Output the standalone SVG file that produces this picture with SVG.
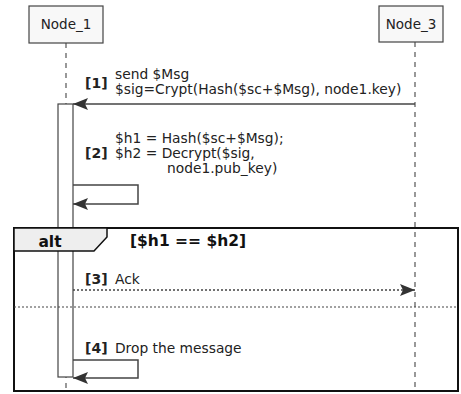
<svg xmlns="http://www.w3.org/2000/svg" width="461" height="394" viewBox="0 0 461 394">
  <defs>
    <marker id="arr" markerUnits="userSpaceOnUse" markerWidth="16" markerHeight="12" refX="15" refY="6" orient="auto">
      <path d="M0,0 L15,6 L0,12 L3,6 Z" fill="#333"/>
    </marker>
  </defs>
  <style>
    .part { fill: #f8f8f8; stroke: #444; stroke-width: 1.2; }
    .ptxt { font-family: "DejaVu Sans", sans-serif; font-size: 13.5px; fill: #222; text-anchor: middle; }
    .life { stroke: #555; stroke-width: 1.2; stroke-dasharray: 5,5; fill: none; }
    .act { fill: #fff; stroke: #444; stroke-width: 1.2; }
    .msg { stroke: #444; stroke-width: 1.5; fill: none; marker-end: url(#arr); }
    .dot { stroke: #444; stroke-width: 1.2; fill: none; stroke-dasharray: 2,2; }
    .t { font-family: "DejaVu Sans", sans-serif; font-size: 13.8px; fill: #222; }
    .n { font-family: "DejaVu Sans", sans-serif; font-size: 14px; font-weight: bold; fill: #222; }
    .frame { fill: none; stroke: #111; stroke-width: 2; }
    .hdr { fill: #eee; stroke: #111; stroke-width: 1.5; }
    .ft { font-family: "DejaVu Sans", sans-serif; font-size: 15.5px; font-weight: bold; fill: #111; }
  </style>
  <rect width="461" height="394" fill="#fff"/>

  <g id="lifelines">
    <line class="life" x1="66" y1="43" x2="66" y2="392"/>
    <line class="life" x1="415" y1="42" x2="415" y2="392"/>
  </g>

  <g id="Node_1">
    <rect class="part" x="29" y="6" width="74" height="37"/>
    <text class="ptxt" x="66" y="29">Node_1</text>
  </g>
  <g id="Node_3">
    <rect class="part" x="379" y="6" width="64" height="36"/>
    <text class="ptxt" x="411" y="29">Node_3</text>
  </g>

  <g id="activation">
    <rect class="act" x="58" y="104" width="15" height="273"/>
  </g>

  <g id="alt">
    <rect class="frame" x="14" y="228" width="444" height="163"/>
    <path class="hdr" d="M14,228 H107 V237 L94,251 H14 Z"/>
    <text class="ft" x="50" y="247" text-anchor="middle">alt</text>
    <text class="ft" x="130" y="246">[$h1 == $h2]</text>
    <line class="dot" x1="14" y1="307" x2="458" y2="307"/>
  </g>

  <g id="connectors">
    <path class="msg" d="M415,104 H73"/>
    <path class="msg" d="M73,185 H138 V204 H73"/>
    <path class="msg" d="M73,290 H415" stroke-dasharray="2,2"/>
    <path class="msg" d="M73,360 H138 V378 H73"/>
  </g>

  <g id="labels">
    <text class="n" x="85" y="88">[1]</text>
    <text class="t" x="115" y="79">send $Msg</text>
    <text class="t" x="115" y="94">$sig=Crypt(Hash($sc+$Msg), node1.key)</text>

    <text class="t" x="115" y="143">$h1 = Hash($sc+$Msg);</text>
    <text class="n" x="85" y="158">[2]</text>
    <text class="t" x="115" y="158">$h2 = Decrypt($sig,</text>
    <text class="t" x="167" y="173">node1.pub_key)</text>

    <text class="n" x="85" y="284">[3]</text>
    <text class="t" x="115" y="284">Ack</text>

    <text class="n" x="85" y="353">[4]</text>
    <text class="t" x="115" y="353">Drop the message</text>
  </g>
</svg>
